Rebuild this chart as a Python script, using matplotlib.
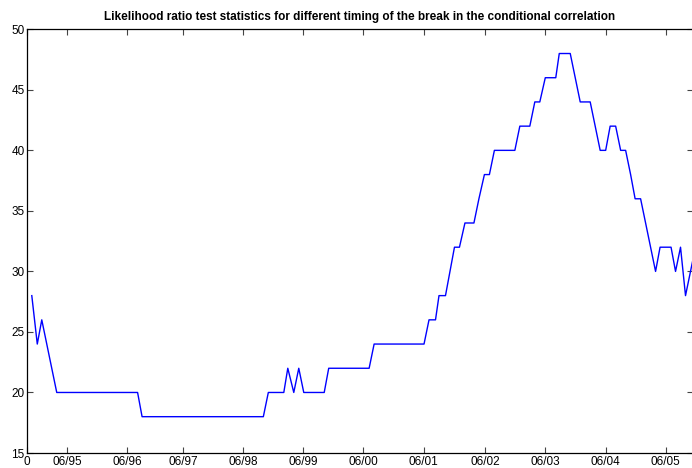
import matplotlib.pyplot as plt

# month index (approx.) and LR statistic
months = [0.9, 2.0, 2.9, 3.9, 4.9, 5.9, 22.1, 23.0, 47.3, 48.3, 51.4, 52.2,
          53.4, 54.4, 55.4, 59.5, 60.4, 68.5, 69.5, 79.5, 80.5, 81.8, 82.5,
          83.8, 84.7, 85.6, 86.6, 87.7, 89.5, 90.5, 91.6, 92.6, 93.6, 97.7,
          98.7, 100.7, 101.7, 102.7, 103.8, 105.9, 106.6, 108.8, 109.8,
          110.8, 112.8, 113.8, 114.8, 115.9, 116.8, 117.9, 118.9, 119.9,
          120.9, 121.8, 122.9, 123.9, 124.9, 125.9, 126.8, 129.0, 129.9,
          130.9, 131.9, 132.9, 133.9]
lr_stat = [28, 24, 26, 24, 22, 20, 20, 18, 18, 20, 20, 22, 20, 22, 20, 20,
           22, 22, 24, 24, 26, 26, 28, 28, 30, 32, 32, 34, 34, 36, 38, 38,
           40, 40, 42, 42, 44, 44, 46, 46, 48, 48, 46, 44, 44, 42, 40, 40,
           42, 42, 40, 40, 38, 36, 36, 34, 32, 30, 32, 32, 30, 32, 28, 30, 32]

tick_pos = [0, 8.0, 20.0, 31.2, 43.3, 55.3, 67.3, 79.4, 91.7, 103.8, 115.9, 127.9]
tick_lab = ['0', '06/95', '06/96', '06/97', '06/98', '06/99', '06/00',
            '06/01', '06/02', '06/03', '06/04', '06/05']

plt.rcParams['font.family'] = ['Liberation Sans', 'DejaVu Sans']

fig = plt.figure(figsize=(6.92, 4.68), dpi=100)
ax = fig.add_axes([27.3 / 692, 1 - 453 / 468, (692.5 - 27.3) / 692, (453 - 29.3) / 468])

ax.plot(months, lr_stat, color='#0000ff', lw=1.0)

ax.set_xlim(0, 133.3)
ax.set_ylim(15, 50)
ax.set_xticks(tick_pos)
ax.set_xticklabels(tick_lab)
ax.set_yticks(range(15, 51, 5))

ax.tick_params(direction='in', length=4, width=0.8, colors='#444444',
               labelcolor='black', labelsize=8.5, top=True, right=True, pad=2)
for s in ax.spines.values():
    s.set_linewidth(0.9)
    s.set_color('black')

ax.set_title('Likelihood ratio test statistics for different timing of the break in the conditional correlation',
             fontsize=8.5, fontweight='bold', pad=7)

fig.savefig('out.png', dpi=100)
